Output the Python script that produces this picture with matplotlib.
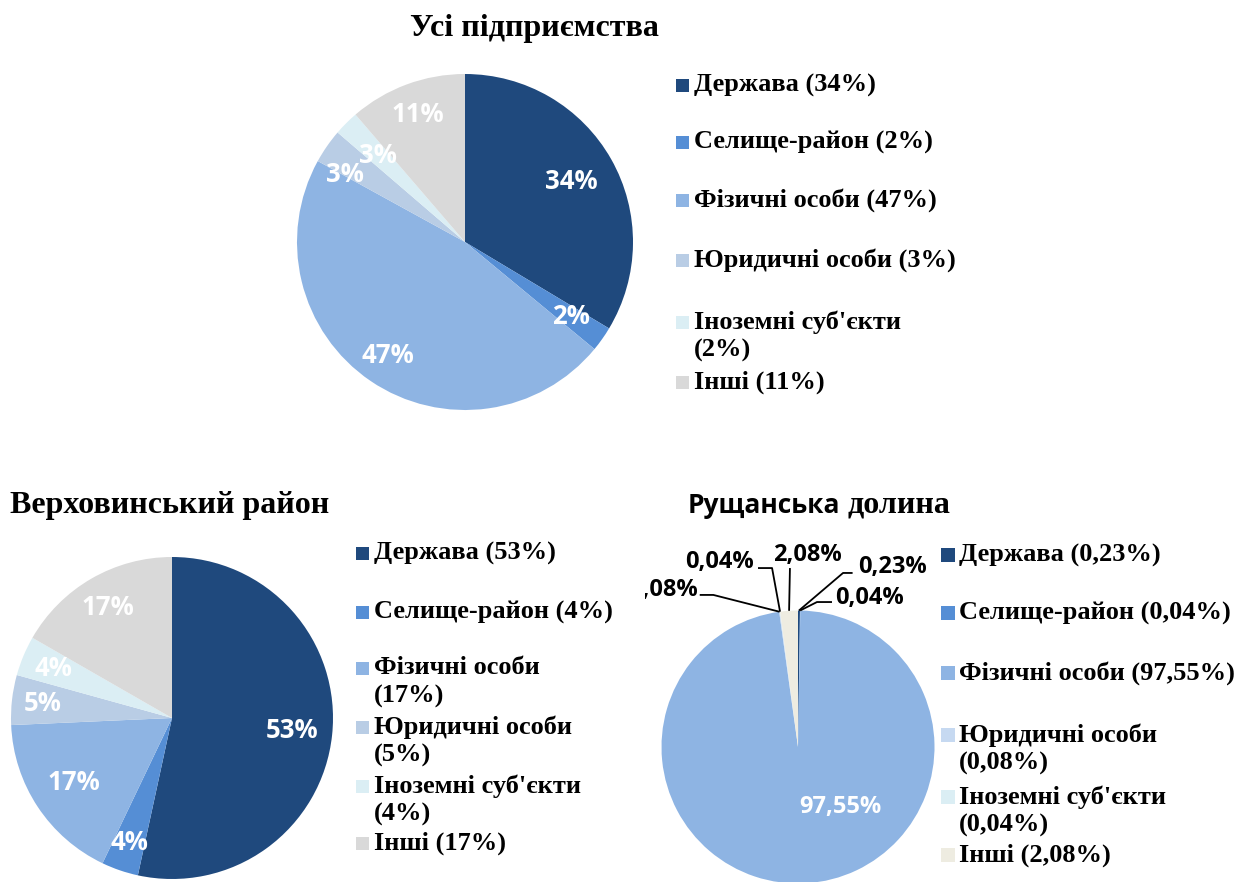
import numpy as np
import matplotlib.pyplot as plt
from matplotlib.patches import Rectangle

W, H = 1246, 882

# Categories (legend names)
categories = ["Держава", "Селище-район", "Фізичні особи",
              "Юридичні особи", "Іноземні суб'єкти", "Інші"]

# Усі підприємства
all_values = [33.6, 2.4, 47.0, 3.3, 2.4, 11.3]
all_pie_labels = ["34%", "2%", "47%", "3%", "3%", "11%"]
all_legend_pct = ["34%", "2%", "47%", "3%", "2%", "11%"]

# Верховинський район
verkh_values = [53.4, 3.7, 17.2, 5.0, 4.0, 16.7]
verkh_pie_labels = ["53%", "4%", "17%", "5%", "4%", "17%"]
verkh_legend_pct = ["53%", "4%", "17%", "5%", "4%", "17%"]

# Рущанська долина
rusch_values = [0.23, 0.04, 97.55, 0.08, 0.04, 2.08]
rusch_labels = ["0,23%", "0,04%", "97,55%", "0,08%", "0,04%", "2,08%"]

colors = ["#1F497D", "#558ED5", "#8EB4E3", "#B9CDE5", "#DBEEF4", "#D9D9D9"]
colors3 = ["#1F497D", "#558ED5", "#8EB4E3", "#C6D9F1", "#DBEEF4", "#EEECE1"]

SERIF = "Liberation Serif"
SANS = "Open Sans"
LEG_FS = 19
LBL_FS = 18.5
LBL3_FS = 17

fig = plt.figure(figsize=(W / 100, H / 100), dpi=100)


def fx(x):
    return x / W


def fy(y):
    return 1 - y / H


def pie_axes(values, cols, cx, cy, r, left, top, right, bottom):
    ax = fig.add_axes([fx(left), fy(bottom), (right - left) / W, (bottom - top) / H])
    wedges, _ = ax.pie(values, colors=cols, startangle=90, counterclock=False,
                       radius=1, wedgeprops=dict(linewidth=0))
    ax.set_xlim((left - cx) / r, (right - cx) / r)
    ax.set_ylim((cy - bottom) / r, (cy - top) / r)
    ax.set_aspect("equal")
    ax.axis("off")
    return ax, wedges


def inner_labels(ax, wedges, labels, radii, shifts, color="white"):
    for w, lab, rr, sh in zip(wedges, labels, radii, shifts):
        a = np.deg2rad((w.theta1 + w.theta2) / 2 + sh)
        ax.text(rr * np.cos(a), rr * np.sin(a), lab, ha="center", va="center",
                color=color, fontsize=LBL_FS, fontweight="bold", family=SANS)


def legend(x_sq, x_txt, rows, names, pcts, breaks, cols, sq=13, line_h=28):
    for y, name, pct, br, c in zip(rows, names, pcts, breaks, cols):
        fig.patches.append(Rectangle((fx(x_sq), fy(y + sq / 2)), sq / W, sq / H,
                                     transform=fig.transFigure, color=c, lw=0))
        text = f"{name}{br}({pct})"
        for i, line in enumerate(text.split("\n")):
            fig.text(fx(x_txt), fy(y + i * line_h), line, ha="left", va="center",
                     fontsize=LEG_FS, fontweight="bold", family=SERIF)


# ---- Chart 1: Усі підприємства
ax1, w1 = pie_axes(all_values, colors, 465, 242, 168, 290, 70, 640, 415)
inner_labels(ax1, w1, all_pie_labels, [0.73, 0.77, 0.82, 0.82, 0.73, 0.81],
             [0, 0, 0, 5.5, 0, 0])
fig.text(fx(534), fy(36), "Усі підприємства", ha="center", va="baseline",
         fontsize=23, fontweight="bold", family=SERIF)
legend(676, 694, [85, 142, 200, 260, 322, 382], categories, all_legend_pct,
       [" ", " ", " ", " ", "\n", " "], colors)

# ---- Chart 2: Верховинський район
ax2, w2 = pie_axes(verkh_values, colors, 172, 718, 161, 0, 540, 345, 882)
inner_labels(ax2, w2, verkh_pie_labels, [0.75, 0.82, 0.73, 0.81, 0.80, 0.79],
             [0, 0, 0, 0, 0, 0])
fig.text(fx(10), fy(513), "Верховинський район", ha="left", va="baseline",
         fontsize=23, fontweight="bold", family=SERIF)
legend(356, 374, [553, 612, 668, 727, 786, 843], categories, verkh_legend_pct,
       [" ", " ", "\n", "\n", "\n", " "], colors)

# ---- Chart 3: Рущанська долина
cx3, cy3, r3 = 798, 747, 136.5
ax3, w3 = pie_axes(rusch_values, colors3, cx3, cy3, r3, 645, 520, 945, 882)
text_xy = [(0.44, 1.32), (0.27, 1.09), (0.31, -0.44), (-0.735, 1.15), (-0.32, 1.355), (0.066, 1.41)]
text_ha = ["left", "left", "center", "right", "right", "center"]
line_start = [(0.40, 1.275), (0.249, 1.062), None, (-0.72, 1.114), (-0.293, 1.311), (-0.059, 1.311)]
line_elbow = [(0.33, 1.275), (0.139, 1.062), None, (-0.62, 1.114), (-0.19, 1.311), None]
for w, lab, (tx, ty), ha, ls, le in zip(w3, rusch_labels, text_xy, text_ha, line_start, line_elbow):
    color = "white" if ls is None else "black"
    ax3.text(tx, ty, lab, ha=ha, va="center", color=color, fontsize=LBL3_FS,
             fontweight="bold", family=SANS, clip_on=True)
    if ls is not None:
        a = np.deg2rad((w.theta1 + w.theta2) / 2)
        pts = [ls] + ([le] if le is not None else []) + [(np.cos(a), np.sin(a))]
        xs, ys = zip(*pts)
        ax3.plot(xs, ys, color="black", lw=1.3, solid_capstyle="butt")

fig.text(fx(688), fy(513), "Рущанська", ha="left", va="baseline",
         fontsize=19, fontweight="bold", family=SANS)
fig.text(fx(950), fy(513), "долина", ha="right", va="baseline",
         fontsize=23, fontweight="bold", family=SERIF)
legend(941, 959, [555, 613, 673, 735, 797, 855], categories, rusch_labels,
       [" ", " ", " ", "\n", "\n", " "], colors3, sq=14)

fig.savefig("out.png", dpi=100)
